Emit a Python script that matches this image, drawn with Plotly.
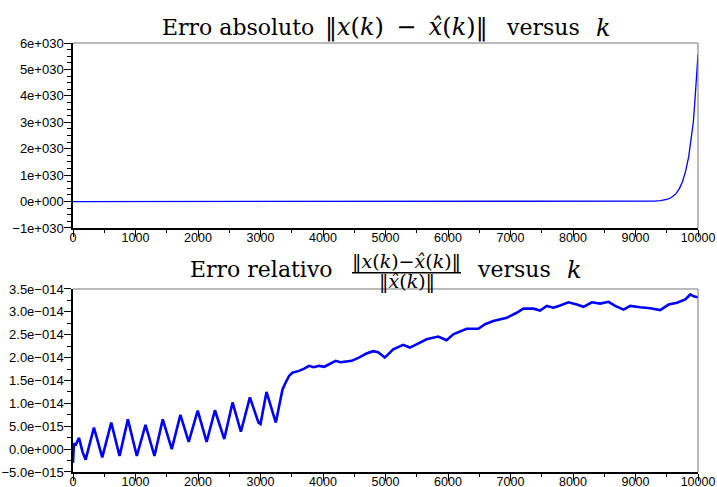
import plotly.graph_objects as go
from plotly.subplots import make_subplots

# ---- data: absolute error (top) ----
k_abs = [0, 1000, 2000, 3000, 4000, 5000, 6000, 7000, 8000, 9000, 9200, 9300, 9400,
         9450, 9500, 9550, 9600, 9650, 9700, 9750, 9800, 9850, 9900, 9925, 9950, 9975, 10000]
err_abs_e30 = [0, 0, 0, 0, 0, 0, 0, 0, 0.001, 0.003, 0.008, 0.016, 0.032,
               0.050, 0.080, 0.125, 0.20, 0.31, 0.48, 0.74, 1.13, 1.68, 2.45, 3.0, 3.8, 4.6, 5.55]

# ---- data: relative error (bottom) ----
k_rel = [0, 15, 40, 96, 150, 202, 335, 468, 612, 745, 878, 1021, 1160, 1303, 1436, 1580,
         1718, 1851, 1995, 2138, 2271, 2420, 2553, 2686, 2830, 2968, 3000, 3096, 3245,
         3300, 3351, 3400, 3457, 3510, 3617, 3700, 3777, 3850, 3936, 4020, 4096, 4202,
         4280, 4362, 4460, 4574, 4695, 4802, 4882, 4989, 5043, 5123, 5283, 5390, 5497,
         5657, 5844, 5978, 6084, 6298, 6485, 6592, 6725, 6939, 7099, 7206, 7366, 7473,
         7580, 7687, 7794, 7927, 8061, 8168, 8301, 8435, 8568, 8675, 8809, 8916, 9076,
         9236, 9396, 9530, 9663, 9797, 9877, 9930, 10000]
err_rel_e15 = [-3.0, 1.3, 0.8, 2.5, -0.5, -2.3, 4.7, -1.8, 5.8, -1.5, 6.5, -1.5, 5.3, -1.5, 6.5, 0.0,
               7.5, 1.6, 8.4, 1.6, 8.5, 2.2, 10.2, 3.8, 11.3, 5.8, 5.5, 12.5, 5.8,
               9.5, 13.0, 14.5, 16.0, 16.7, 17.1, 17.6, 18.2, 17.9, 18.2, 18.0, 18.5, 19.3,
               19.0, 19.1, 19.3, 20.0, 20.9, 21.4, 21.2, 20.0, 20.7, 21.8, 22.8, 22.2, 22.9,
               24.0, 24.6, 23.8, 25.1, 26.3, 26.3, 27.3, 28.0, 28.7, 29.8, 30.7, 30.7, 30.3,
               31.3, 30.9, 31.4, 32.1, 31.6, 31.1, 32.1, 31.8, 32.2, 31.3, 30.5, 31.3, 31.0,
               30.8, 30.4, 31.6, 32.0, 32.7, 33.8, 33.4, 33.2]

x_ticks = [0, 1000, 2000, 3000, 4000, 5000, 6000, 7000, 8000, 9000, 10000]
x_tick_labels = ["0", "1000", "2000", "3000", "4000", "5000", "6000", "7000", "8000", "9000", "10000"]
y1_ticks_e30 = [-1, 0, 1, 2, 3, 4, 5, 6]
y1_tick_labels = ["\u22121e+030", "0e+000", "1e+030", "2e+030", "3e+030", "4e+030", "5e+030", "6e+030"]
y2_ticks_e15 = [-5, 0, 5, 10, 15, 20, 25, 30, 35]
y2_tick_labels = ["\u22125.0e\u2212015", "0.0e+000", "5.0e\u2212015", "1.0e\u2212014", "1.5e\u2212014",
                  "2.0e\u2212014", "2.5e\u2212014", "3.0e\u2212014", "3.5e\u2212014"]

err_abs = [v * 1e30 for v in err_abs_e30]
err_rel = [v * 1e-15 for v in err_rel_e15]
y1_ticks = [v * 1e30 for v in y1_ticks_e30]
y2_ticks = [v * 1e-15 for v in y2_ticks_e15]

fig = make_subplots(rows=2, cols=1)
fig.add_trace(go.Scatter(x=k_abs, y=err_abs, mode="lines",
                         line=dict(color="#0000ff", width=1.3)), row=1, col=1)
fig.add_trace(go.Scatter(x=k_rel, y=err_rel, mode="lines",
                         line=dict(color="#0000ff", width=2.6)), row=2, col=1)

tickfont = dict(family="Liberation Sans, Arial", size=13, color="black")
xtickfont = dict(family="Liberation Sans, Arial", size=12.5, color="black")
xcommon = dict(range=[0, 10000], tickmode="array", tickvals=x_ticks, ticktext=x_tick_labels,
               ticks="outside", ticklen=7, tickwidth=1, tickcolor="black", automargin=False,
               ticklabelstandoff=-10,
               showline=True, linecolor="black", linewidth=1.5, showgrid=False, zeroline=False,
               tickfont=xtickfont,
               minor=dict(tickmode="linear", tick0=0, dtick=500, ticks="outside", ticklen=3,
                          tickcolor="black", showgrid=False))
fig.update_xaxes(**xcommon)
fig.update_xaxes(domain=[0, 1], row=1, col=1)
fig.update_xaxes(domain=[0, 1], row=2, col=1)

ycommon = dict(ticks="outside", ticklen=7, tickcolor="black", showline=True, linecolor="black",
               linewidth=1.5, showgrid=False, zeroline=False, tickfont=tickfont, automargin=False,
               ticklabelstandoff=-2, tickmode="array")
fig.update_yaxes(range=[-1e30, 6e30], tickvals=y1_ticks, ticktext=y1_tick_labels,
                 domain=[0.5688, 1.0],
                 minor=dict(tickmode="linear", tick0=0, dtick=0.25e30, ticks="outside", ticklen=4,
                            tickcolor="black", showgrid=False), row=1, col=1, **ycommon)
fig.update_yaxes(range=[-5e-15, 3.5e-14], tickvals=y2_ticks, ticktext=y2_tick_labels,
                 domain=[0.0, 0.4266],
                 minor=dict(tickmode="linear", tick0=0, dtick=2.5e-15, ticks="outside", ticklen=4,
                            tickcolor="black", showgrid=False), row=2, col=1, **ycommon)

# gray top/right frame lines
for xr, yr in [("x domain", "y domain"), ("x2 domain", "y2 domain")]:
    fig.add_shape(type="line", xref=xr, yref=yr, x0=0, x1=1, y0=1, y1=1,
                  line=dict(color="#777777", width=1))
    fig.add_shape(type="line", xref=xr, yref=yr, x0=1, x1=1, y0=0, y1=1,
                  line=dict(color="#777777", width=1))

serif = "DejaVu Serif, serif"
def txt(x, y, s, size):
    fig.add_annotation(xref="paper", yref="paper", x=x, y=y, xanchor="center", yanchor="middle",
                       showarrow=False, text=s, font=dict(family=serif, size=size, color="black"))

# top title pieces
txt(0.2632, 1.035, "Erro absoluto", 22)
txt(0.5336, 1.035, "\u2016<i>x</i>(<i>k</i>) \u2009\u2212\u2009 <i>x\u0302</i>(<i>k</i>)\u2016", 24)
txt(0.752, 1.035, "versus", 22)
txt(0.848, 1.035, "<i>k</i>", 24)
# bottom title pieces
txt(0.3016, 0.4709, "Erro relativo", 22)
txt(0.5336, 0.4918, "\u2016<i>x</i>(<i>k</i>)\u2212<i>x\u0302</i>(<i>k</i>)\u2016", 19)
txt(0.5336, 0.4429, "\u2016<i>x\u0302</i>(<i>k</i>)\u2016", 19)
fig.add_shape(type="line", xref="paper", yref="paper", x0=0.4464, x1=0.6208, y0=0.4646, y1=0.4646,
              line=dict(color="black", width=1.5))
txt(0.7056, 0.4709, "versus", 22)
txt(0.8016, 0.4709, "<i>k</i>", 24)

fig.update_layout(width=717, height=487, margin=dict(l=73, r=19, t=43, b=15),
                  paper_bgcolor="white", plot_bgcolor="white", showlegend=False)
fig.write_html("out.html", config={"displayModeBar": False},
               post_script="document.body.style.margin='0px';")
